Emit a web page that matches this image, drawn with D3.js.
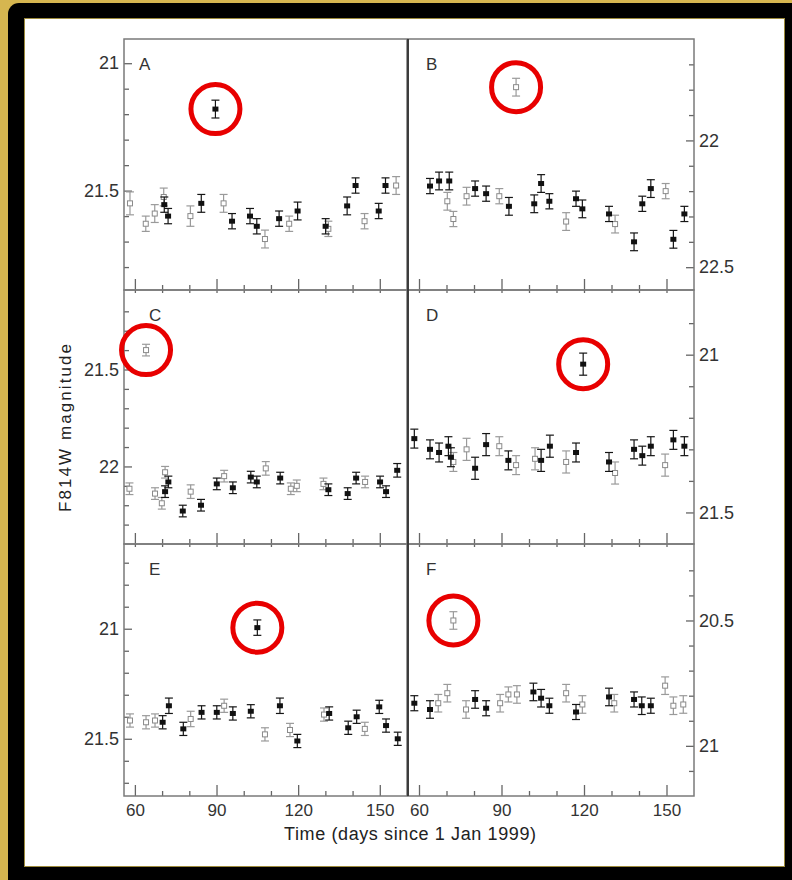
<!DOCTYPE html>
<html><head><meta charset="utf-8">
<script src="https://cdn.jsdelivr.net/npm/d3@7"></script>
<style>body{margin:0;background:#d6b650;} svg{display:block}</style>
</head><body>
<svg id="chart" width="792" height="880"></svg>
<script>
// ---------- data ----------
const xDomain = [56, 160];
const xMajorTicks = [60, 90, 120, 150];
const xMinorTicks = [70, 80, 100, 110, 130, 140];
const xTitle = "Time (days since 1 Jan 1999)";
const yTitle = "F814W magnitude";
const panelLetters = ["A", "B", "C", "D", "E", "F"];

const aDays = [58.2,64.0,67.3,70.6,70.8,72.2,80.4,84.4,89.6,92.6,95.7,102.3,104.8,107.8,113.0,116.7,119.8,130.1,131.1,138.0,141.1,144.4,149.6,152.1,156.0];
const aMags = [21.55,21.63,21.59,21.525,21.555,21.60,21.60,21.55,21.18,21.55,21.62,21.60,21.64,21.69,21.61,21.63,21.58,21.64,21.65,21.56,21.48,21.62,21.58,21.48,21.48];
const aErrs = [0.045,0.03,0.035,0.035,0.03,0.03,0.04,0.035,0.035,0.035,0.03,0.03,0.03,0.035,0.03,0.03,0.035,0.03,0.03,0.035,0.03,0.03,0.03,0.03,0.035];
const aFilled = [0,0,0,0,1,1,0,1,1,0,1,1,1,0,1,0,1,1,0,1,1,0,1,1,0];
const aRange = [20.905, 21.89];
const aLabels = [21, 21.5];
const aOutlier = 8;

const bDays = [64.0,67.3,70.3,71.0,72.5,77.3,80.4,84.4,89.2,92.7,95.3,101.9,104.4,107.4,113.5,117.1,119.4,129.1,131.3,138.2,141.2,144.3,149.7,152.5,156.5];
const bMags = [22.18,22.16,22.24,22.16,22.31,22.22,22.19,22.21,22.22,22.26,21.79,22.25,22.17,22.24,22.32,22.23,22.27,22.29,22.33,22.40,22.25,22.19,22.20,22.39,22.29];
const bErrs = [0.03,0.035,0.035,0.035,0.03,0.035,0.03,0.03,0.03,0.035,0.035,0.035,0.035,0.03,0.035,0.03,0.035,0.03,0.035,0.035,0.03,0.035,0.03,0.035,0.03];
const bFilled = [1,1,0,1,0,0,1,1,0,1,0,1,1,1,0,1,1,1,0,1,1,1,0,1,1];
const bRange = [21.60, 22.59];
const bLabels = [22, 22.5];
const bOutlier = 10;

const cDays = [58.0,64.1,67.4,69.9,71.1,71.1,72.3,77.6,80.5,84.3,90.1,92.8,96.0,102.6,104.8,108.1,113.4,117.3,119.5,129.3,131.1,138.2,141.3,144.6,150.1,152.3,156.4];
const cMags = [22.115,21.40,22.14,22.19,22.03,22.13,22.08,22.23,22.13,22.20,22.09,22.05,22.11,22.055,22.08,22.01,22.06,22.115,22.10,22.09,22.12,22.14,22.06,22.08,22.08,22.13,22.02];
const cErrs = [0.03,0.03,0.03,0.03,0.03,0.03,0.03,0.03,0.035,0.03,0.03,0.03,0.03,0.03,0.03,0.035,0.03,0.03,0.03,0.03,0.03,0.03,0.03,0.03,0.03,0.03,0.035];
const cFilled = [0,0,0,0,0,1,1,1,0,1,1,0,1,1,1,0,1,0,0,0,1,1,1,0,1,1,1];
const cRange = [21.09, 22.40];
const cLabels = [21.5, 22];
const cOutlier = 1;

const dDays = [58.3,64.0,67.3,70.7,71.6,72.5,77.3,80.4,84.4,89.2,92.5,95.3,102.2,104.4,107.6,113.5,117.1,119.7,129.1,131.3,138.2,141.2,144.3,149.5,152.5,156.5];
const dMags = [21.266,21.30,21.31,21.29,21.325,21.34,21.30,21.36,21.285,21.29,21.335,21.35,21.33,21.335,21.29,21.34,21.31,21.03,21.34,21.375,21.30,21.32,21.29,21.35,21.27,21.29];
const dErrs = [0.03,0.03,0.03,0.03,0.03,0.03,0.035,0.035,0.035,0.03,0.03,0.03,0.035,0.035,0.035,0.035,0.03,0.035,0.03,0.035,0.03,0.03,0.03,0.035,0.03,0.03];
const dFilled = [1,1,1,1,1,0,0,1,1,0,1,0,0,1,1,0,1,1,1,0,1,1,1,0,1,1];
const dRange = [20.795, 21.60];
const dLabels = [21, 21.5];
const dOutlier = 17;

const eDays = [58.2,64.1,67.4,70.2,72.5,77.8,80.5,84.5,90.1,92.8,96.0,102.6,105.0,107.8,113.3,117.0,119.7,129.5,131.4,138.4,141.5,144.5,149.8,152.3,156.6];
const eMags = [21.417,21.425,21.417,21.425,21.35,21.455,21.41,21.38,21.38,21.35,21.385,21.375,20.995,21.48,21.35,21.46,21.51,21.39,21.385,21.45,21.40,21.455,21.355,21.44,21.50];
const eErrs = [0.03,0.03,0.03,0.03,0.035,0.03,0.035,0.03,0.03,0.03,0.03,0.03,0.035,0.03,0.035,0.03,0.03,0.03,0.03,0.03,0.03,0.03,0.03,0.03,0.03];
const eFilled = [0,0,0,1,1,1,0,1,1,0,1,1,1,0,1,0,1,0,1,1,1,0,1,1,1];
const eRange = [20.615, 21.76];
const eLabels = [21, 21.5];
const eOutlier = 12;

const fDays = [58.3,64.0,67.0,70.3,72.5,77.1,80.4,84.4,89.5,92.5,95.6,101.6,104.4,107.4,113.5,117.1,119.4,129.1,131.0,138.2,141.0,144.3,149.5,152.5,156.1];
const fMags = [20.83,20.855,20.83,20.79,20.50,20.855,20.815,20.85,20.83,20.795,20.795,20.785,20.81,20.84,20.79,20.865,20.835,20.805,20.83,20.815,20.84,20.84,20.76,20.84,20.835];
const fErrs = [0.03,0.035,0.035,0.035,0.035,0.035,0.035,0.03,0.035,0.03,0.035,0.035,0.035,0.03,0.035,0.03,0.035,0.035,0.035,0.03,0.035,0.03,0.035,0.035,0.035];
const fFilled = [1,1,0,0,0,0,1,1,0,0,0,1,1,1,0,1,0,1,0,1,1,1,0,0,0];
const fRange = [20.195, 21.20];
const fLabels = [20.5, 21];
const fOutlier = 4;

// ---------- layout ----------
const W = 792, H = 880;
const colX = [124, 408], colW = [283, 286];
const rowY = [39, 290, 544], rowH = [251, 254, 252];

const panels = [
  {days:aDays, mags:aMags, errs:aErrs, filled:aFilled, range:aRange, labels:aLabels, outlier:aOutlier, col:0, row:0, lx:15},
  {days:bDays, mags:bMags, errs:bErrs, filled:bFilled, range:bRange, labels:bLabels, outlier:bOutlier, col:1, row:0, lx:18},
  {days:cDays, mags:cMags, errs:cErrs, filled:cFilled, range:cRange, labels:cLabels, outlier:cOutlier, col:0, row:1, lx:25},
  {days:dDays, mags:dMags, errs:dErrs, filled:dFilled, range:dRange, labels:dLabels, outlier:dOutlier, col:1, row:1, lx:18},
  {days:eDays, mags:eMags, errs:eErrs, filled:eFilled, range:eRange, labels:eLabels, outlier:eOutlier, col:0, row:2, lx:25},
  {days:fDays, mags:fMags, errs:fErrs, filled:fFilled, range:fRange, labels:fLabels, outlier:fOutlier, col:1, row:2, lx:18}
];

const svg = d3.select("#chart");
const FONT = "'Liberation Sans', Arial, Helvetica, sans-serif";

// frame
svg.append("rect").attr("width", W).attr("height", H).attr("fill", "#d6b650");
svg.append("rect").attr("x", 8).attr("y", 3).attr("width", 830).attr("height", 920).attr("rx", 11).attr("fill", "#000");
svg.append("rect").attr("x", 24.5).attr("y", 18.5).attr("width", 760).attr("height", 848)
  .attr("fill", "#fff").attr("stroke", "#9c8a3c").attr("stroke-width", 1);

const fmt = d => String(+d.toFixed(1));

panels.forEach((p, i) => {
  const x0 = colX[p.col], w = colW[p.col], y0 = rowY[p.row], h = rowH[p.row];
  const x = d3.scaleLinear().domain(xDomain).range([x0, x0 + w]);
  const y = d3.scaleLinear().domain(p.range).range([y0, y0 + h]);
  const g = svg.append("g");

  // minor y ticks every 0.1
  const lo = Math.ceil(p.range[0] * 10 - 1e-6), hi = Math.floor(p.range[1] * 10 + 1e-6);
  const minor = d3.range(lo, hi + 1).map(v => v / 10)
    .filter(v => !p.labels.some(l => Math.abs(l - v) < 1e-6))
    .filter(v => y(v) > y0 + 2 && y(v) < y0 + h - 2);

  const isLeft = p.col === 0;
  const axX = isLeft ? x0 : x0 + w;
  const mkAxis = isLeft ? d3.axisLeft : d3.axisRight;

  const yMaj = g.append("g").attr("transform", `translate(${axX},0)`)
    .call(mkAxis(y).tickValues(p.labels).tickSize(-8).tickPadding(5).tickFormat(fmt));
  const yMin = g.append("g").attr("transform", `translate(${axX},0)`)
    .call(mkAxis(y).tickValues(minor).tickSize(-5).tickFormat(""));
  [yMaj, yMin].forEach(a => {
    a.select(".domain").remove();
    a.selectAll("line").attr("stroke", "#666").attr("stroke-width", 1.3);
    a.selectAll("text").attr("font-family", FONT).attr("font-size", 18).attr("fill", "#333");
  });

  // x ticks (bottom, pointing up)
  const isBottom = p.row === 2;
  const xMaj = g.append("g").attr("transform", `translate(0,${y0 + h})`)
    .call(d3.axisBottom(x).tickValues(xMajorTicks).tickSize(-11).tickPadding(8).tickFormat(isBottom ? d3.format("d") : ""));
  const xMin = g.append("g").attr("transform", `translate(0,${y0 + h})`)
    .call(d3.axisBottom(x).tickValues(xMinorTicks).tickSize(-5).tickFormat(""));
  const xTop = g.append("g").attr("transform", `translate(0,${y0})`)
    .call(d3.axisTop(x).tickValues(xMajorTicks.concat(xMinorTicks)).tickSize(p.row > 0 ? -3 : 0).tickFormat(""));
  [xMaj, xMin, xTop].forEach(a => {
    a.select(".domain").remove();
    a.selectAll("line").attr("stroke", "#666").attr("stroke-width", 1.3);
    a.selectAll("text").attr("font-family", FONT).attr("font-size", 17).attr("fill", "#333");
  });

  // panel frame
  g.append("rect").attr("x", x0).attr("y", y0).attr("width", w).attr("height", h)
    .attr("fill", "none").attr("stroke", "#7a7a7a").attr("stroke-width", 1.5);

  // letter
  g.append("text").attr("x", x0 + p.lx).attr("y", y0 + 31)
    .attr("font-family", FONT).attr("font-size", 17).attr("fill", "#333").text(panelLetters[i]);

  // points
  const pts = p.days.map((d, k) => ({d, m: p.mags[k], e: p.errs[k], f: p.filled[k]}))
    .sort((a, b) => a.f - b.f);
  const pg = g.append("g");
  pts.forEach(pt => {
    const col = pt.f ? "#151515" : "#9a9a9a";
    const cx = x(pt.d), cy = y(pt.m), y1 = y(pt.m - pt.e), y2 = y(pt.m + pt.e);
    pg.append("line").attr("x1", cx).attr("x2", cx).attr("y1", y1).attr("y2", y2).attr("stroke", col).attr("stroke-width", 1.2);
    [y1, y2].forEach(yy => pg.append("line").attr("x1", cx - 4).attr("x2", cx + 4).attr("y1", yy).attr("y2", yy)
      .attr("stroke", col).attr("stroke-width", 1.2));
    if (pt.f) {
      pg.append("rect").attr("x", cx - 3).attr("y", cy - 2.5).attr("width", 6).attr("height", 5).attr("fill", "#111");
    } else {
      pg.append("rect").attr("x", cx - 2.5).attr("y", cy - 2.5).attr("width", 5).attr("height", 5)
        .attr("fill", "#fff").attr("stroke", "#8a8a8a").attr("stroke-width", 1);
    }
  });

  // red circle around the outlier
  g.append("circle").attr("cx", x(p.days[p.outlier])).attr("cy", y(p.mags[p.outlier])).attr("r", 24.5)
    .attr("fill", "none").attr("stroke", "#e80000").attr("stroke-width", 5);
});

// divider between columns
svg.append("line").attr("x1", colX[1]).attr("x2", colX[1]).attr("y1", rowY[0]).attr("y2", rowY[2] + rowH[2])
  .attr("stroke", "#333").attr("stroke-width", 1.8);

// titles
svg.append("text").attr("x", 410).attr("y", 840).attr("text-anchor", "middle")
  .attr("font-family", FONT).attr("font-size", 18).attr("fill", "#222")
  .attr("textLength", 252).attr("lengthAdjust", "spacing").text(xTitle);
svg.append("text").attr("transform", "translate(71,428) rotate(-90)").attr("text-anchor", "middle")
  .attr("font-family", FONT).attr("font-size", 17).attr("fill", "#222")
  .attr("textLength", 168).attr("lengthAdjust", "spacing").text(yTitle);
</script>
</body></html>
